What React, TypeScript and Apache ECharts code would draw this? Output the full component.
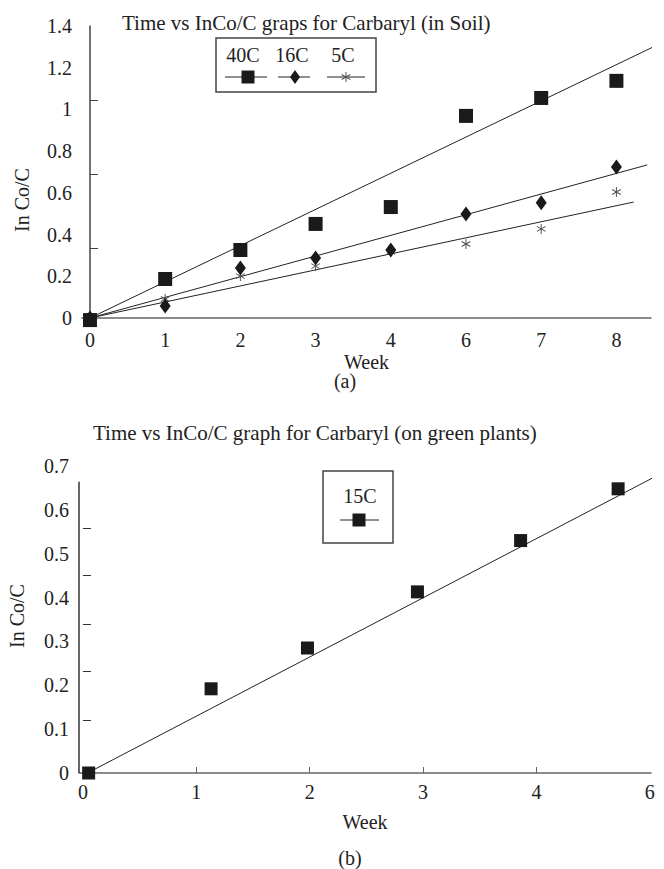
import React, { useEffect, useRef } from "react";
import * as echarts from "echarts";

// ---- Data: chart (a) soil ----
const weekLabelsA = ["0", "1", "2", "3", "4", "6", "7", "8"];
const xPosA = [0, 1, 2, 3, 4, 5, 6, 7];
const lnC40 = [-0.01, 0.187, 0.326, 0.451, 0.532, 0.969, 1.055, 1.137];
const lnC16 = [0, 0.058, 0.24, 0.288, 0.326, 0.499, 0.552, 0.724];
const lnC5 = [0, 0.091, 0.201, 0.249, 0.317, 0.355, 0.427, 0.604];
const fit40 = [[0, 0], [7.63, 1.324]];
const fit16 = [[0, 0], [7.41, 0.734]];
const fit5 = [[0, 0], [7.23, 0.556]];
const yLabelsA = [0, 0.2, 0.4, 0.6, 0.8, 1, 1.2, 1.4];
const yTicksA = [0.336, 0.691, 1.046];

// ---- Data: chart (b) green plants ----
const weekLabelsB = ["0", "1", "2", "3", "4", "6"];
const xPosB = [0.05, 1.13, 1.98, 2.95, 3.86, 4.72];
const lnC15 = [0, 0.192, 0.285, 0.413, 0.53, 0.648];
const fit15 = [[0.04, 0], [5.13, 0.687]];
const yLabelsB = [0, 0.1, 0.2, 0.3, 0.4, 0.5, 0.6, 0.7];
const yTicksB = [0.121, 0.231, 0.34, 0.45, 0.559];
const xTicksB = [1, 2, 3, 4];
const yAxisTopB = 0.664;

const FONT = "Liberation Serif";
const INK = "#222";
const ASTER_D =
  "M4.5,0L5.5,0L5.5,10L4.5,10Z M9.08,7.93L0.42,2.93L0.92,2.07L9.58,7.07Z M9.08,2.07L9.58,2.93L0.92,7.93L0.42,7.07Z";

let registered = false;
function ensureShapes() {
  if (registered) return;
  echarts.graphic.registerShape("asterisk", echarts.graphic.extendPath(ASTER_D, {}));
  registered = true;
}

export default function App() {
  const ref = useRef<HTMLDivElement>(null);

  useEffect(() => {
    if (!ref.current) return;
    ensureShapes();
    const chart = echarts.init(ref.current, null, { renderer: "svg" });

    const xMinA = -0.106;
    const xMaxA = 7.46;
    const xMinB = -0.035;
    const xMaxB = 5.01;

    const labelStyle = { fontFamily: FONT, fontSize: 20, color: INK };

    const trend = (data: number[][], xi: number, yi: number) => ({
      type: "line",
      xAxisIndex: xi,
      yAxisIndex: yi,
      data,
      showSymbol: false,
      symbol: "none",
      clip: false,
      silent: true,
      lineStyle: { color: "#222", width: 1 },
      z: 2,
    });

    const option: any = {
      animation: false,
      backgroundColor: "#fff",
      title: [
        {
          text: "Time vs InCo/C graps for Carbaryl (in Soil)",
          left: 122,
          top: 12,
          padding: 0,
          textStyle: { fontFamily: FONT, fontSize: 21, fontWeight: "normal", color: INK },
        },
        {
          text: "Time vs InCo/C graph for Carbaryl (on green plants)",
          left: 93,
          top: 422,
          padding: 0,
          textStyle: { fontFamily: FONT, fontSize: 21, fontWeight: "normal", color: INK },
        },
      ],
      grid: [
        { left: 82, top: 26, width: 569, height: 292 },
        { left: 79, top: 466, width: 572, height: 307 },
      ],
      xAxis: [
        {
          type: "value",
          gridIndex: 0,
          min: xMinA,
          max: xMaxA,
          name: "Week",
          nameLocation: "middle",
          nameGap: 34,
          nameTextStyle: { fontFamily: FONT, fontSize: 20, color: INK },
          axisLine: { show: true, lineStyle: { color: "#666", width: 1.5 } },
          axisTick: { show: false },
          splitLine: { show: false },
          axisLabel: {
            ...labelStyle,
            margin: 12,
            customValues: xPosA,
            formatter: (v: number) => weekLabelsA[Math.round(v)] ?? "",
          },
        },
        {
          type: "value",
          gridIndex: 1,
          min: xMinB,
          max: xMaxB,
          name: "Week",
          nameLocation: "middle",
          nameGap: 39,
          nameTextStyle: { fontFamily: FONT, fontSize: 20, color: INK },
          axisLine: { show: true, lineStyle: { color: "#666", width: 1.5 } },
          axisTick: {
            show: true,
            inside: true,
            length: 6,
            customValues: xTicksB,
            lineStyle: { color: "#666", width: 1 },
          },
          splitLine: { show: false },
          axisLabel: {
            ...labelStyle,
            margin: 9,
            customValues: [0, 1, 2, 3, 4, 5],
            formatter: (v: number) => weekLabelsB[Math.round(v)] ?? "",
          },
        },
      ],
      yAxis: [
        {
          type: "value",
          gridIndex: 0,
          min: 0,
          max: 1.4,
          axisLine: { show: true, lineStyle: { color: "#444", width: 1.5 } },
          axisTick: {
            show: true,
            inside: true,
            length: 8,
            customValues: yTicksA,
            lineStyle: { color: "#444", width: 1 },
          },
          splitLine: { show: false },
          axisLabel: { ...labelStyle, margin: 10, customValues: yLabelsA },
        },
        {
          type: "value",
          gridIndex: 1,
          min: 0,
          max: 0.7,
          axisLine: { show: false },
          axisTick: {
            show: true,
            inside: true,
            length: 8,
            customValues: yTicksB,
            lineStyle: { color: "#333", width: 1 },
          },
          splitLine: { show: false },
          axisLabel: { ...labelStyle, margin: 10, customValues: yLabelsB },
        },
      ],
      series: [
        trend(fit40, 0, 0),
        trend(fit16, 0, 0),
        trend(fit5, 0, 0),
        {
          type: "scatter",
          name: "5C",
          xAxisIndex: 0,
          yAxisIndex: 0,
          data: xPosA.map((x, i) => [x, lnC5[i]]),
          symbol: "path://" + ASTER_D,
          symbolSize: 10,
          symbolKeepAspect: true,
          itemStyle: { color: "#555", opacity: 1 },
          clip: false,
          z: 3,
        },
        {
          type: "scatter",
          name: "16C",
          xAxisIndex: 0,
          yAxisIndex: 0,
          data: xPosA.map((x, i) => [x, lnC16[i]]),
          symbol: "diamond",
          symbolSize: [11, 15],
          itemStyle: { color: "#1a1a1a", opacity: 1 },
          clip: false,
          z: 4,
        },
        {
          type: "scatter",
          name: "40C",
          xAxisIndex: 0,
          yAxisIndex: 0,
          data: xPosA.map((x, i) => [x, lnC40[i]]),
          symbol: "rect",
          symbolSize: 14,
          itemStyle: { color: "#1a1a1a", opacity: 1 },
          clip: false,
          z: 5,
        },
        {
          ...trend(fit15, 1, 1),
          markLine: {
            silent: true,
            symbol: "none",
            label: { show: false },
            lineStyle: { color: "#333", width: 1.5, type: "solid" },
            data: [[{ coord: [xMinB, 0] }, { coord: [xMinB, yAxisTopB] }]],
          },
        },
        {
          type: "scatter",
          name: "15C",
          xAxisIndex: 1,
          yAxisIndex: 1,
          data: xPosB.map((x, i) => [x, lnC15[i]]),
          symbol: "rect",
          symbolSize: 13,
          itemStyle: { color: "#1a1a1a", opacity: 1 },
          clip: false,
          z: 5,
        },
      ],
      graphic: [
        // y-axis names
        {
          type: "text",
          x: 22,
          y: 200,
          rotation: Math.PI / 2,
          style: { text: "In Co/C", font: `20px "${FONT}"`, fill: INK, align: "center", verticalAlign: "middle" },
        },
        {
          type: "text",
          x: 17,
          y: 616,
          rotation: Math.PI / 2,
          style: { text: "In Co/C", font: `20px "${FONT}"`, fill: INK, align: "center", verticalAlign: "middle" },
        },
        // captions
        {
          type: "text",
          x: 345,
          y: 381,
          style: { text: "(a)", font: `20px "${FONT}"`, fill: INK, align: "center", verticalAlign: "middle" },
        },
        {
          type: "text",
          x: 350,
          y: 858,
          style: { text: "(b)", font: `20px "${FONT}"`, fill: INK, align: "center", verticalAlign: "middle" },
        },
        // legend (a)
        {
          type: "rect",
          shape: { x: 216, y: 38, width: 160, height: 54 },
          style: { fill: "none", stroke: "#444", lineWidth: 1.5 },
        },
        { type: "text", x: 243, y: 55, style: { text: "40C", font: `20px "${FONT}"`, fill: INK, align: "center", verticalAlign: "middle" } },
        { type: "text", x: 292, y: 55, style: { text: "16C", font: `20px "${FONT}"`, fill: INK, align: "center", verticalAlign: "middle" } },
        { type: "text", x: 343, y: 55, style: { text: "5C", font: `20px "${FONT}"`, fill: INK, align: "center", verticalAlign: "middle" } },
        { type: "line", shape: { x1: 225, y1: 77, x2: 267, y2: 77 }, style: { stroke: "#222", lineWidth: 1 } },
        { type: "line", shape: { x1: 278, y1: 77, x2: 310, y2: 77 }, style: { stroke: "#222", lineWidth: 1 } },
        { type: "line", shape: { x1: 327, y1: 77, x2: 365, y2: 77 }, style: { stroke: "#222", lineWidth: 1 } },
        { type: "rect", shape: { x: 241.5, y: 70.5, width: 13, height: 13 }, style: { fill: "#1a1a1a" } },
        { type: "polygon", shape: { points: [[295, 70], [300, 77], [295, 84], [290, 77]] }, style: { fill: "#1a1a1a" } },
        { type: "asterisk", x: 341, y: 72, scaleX: 1, scaleY: 1, style: { fill: "#555" } },
        // legend (b)
        {
          type: "rect",
          shape: { x: 323, y: 471, width: 70, height: 72 },
          style: { fill: "none", stroke: "#444", lineWidth: 1.5 },
        },
        { type: "text", x: 360, y: 496, style: { text: "15C", font: `20px "${FONT}"`, fill: INK, align: "center", verticalAlign: "middle" } },
        { type: "line", shape: { x1: 340, y1: 520, x2: 379, y2: 520 }, style: { stroke: "#222", lineWidth: 1 } },
        { type: "rect", shape: { x: 352.5, y: 513.5, width: 13, height: 13 }, style: { fill: "#1a1a1a" } },
      ],
    };

    chart.setOption(option);
    return () => {
      chart.dispose();
    };
  }, []);

  return (
    <div
      ref={ref}
      style={{ position: "fixed", left: 0, top: 0, width: 664, height: 869, background: "#fff" }}
    />
  );
}
